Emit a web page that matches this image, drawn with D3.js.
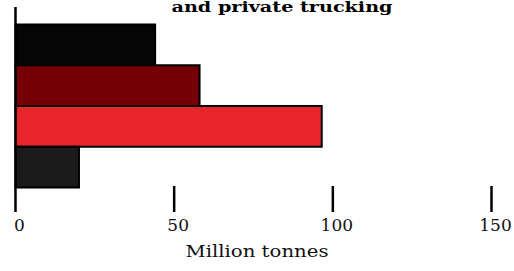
<!DOCTYPE html>
<html>
<head>
<meta charset="utf-8">
<script src="https://cdn.jsdelivr.net/npm/d3@7"></script>
<style>
  body { margin: 0; background: #fff; }
</style>
</head>
<body>
<script>
// data
const categories = ['a', 'b', 'c', 'd']
const values = [44, 58, 96.5, 20]
const barColors = ['#050505', '#750006', '#e8252b', '#1b1b1b']
const tickValues = [0, 50, 100, 150]

const W = 514, H = 271

const svg = d3.select('body').append('svg')
    .attr('width', W)
    .attr('height', H)

//x scale: 0 sits on the axis line, 150 at the last tick
const x = d3.scaleLinear()
    .domain([0, 150])
    .range([15.5, 491.5])

const y = d3.scaleBand()
    .domain(categories)
    .range([24.5, 187.5])
    .padding(0)

//title (only its last line shows at the top)
svg.append('text')
    .attr('x', 282)
    .attr('y', 12)
    .attr('text-anchor', 'middle')
    .attr('font-family', 'DejaVu Serif')
    .attr('font-weight', 'bold')
    .attr('font-size', '14px')
    .attr('textLength', 221)
    .attr('lengthAdjust', 'spacingAndGlyphs')
    .text('and private trucking')

//bars
svg.selectAll('.bar')
    .data(values)
    .enter()
    .append('rect')
        .attr('class', 'bar')
        .attr('x', x(0))
        .attr('y', (d, i) => y(categories[i]))
        .attr('width', d => x(d) - x(0))
        .attr('height', y.bandwidth())
        .attr('fill', (d, i) => barColors[i])
        .attr('stroke', '#000')
        .attr('stroke-width', 2)

//vertical axis line
svg.append('line')
    .attr('x1', x(0)).attr('x2', x(0))
    .attr('y1', 7).attr('y2', 212)
    .attr('stroke', '#000')
    .attr('stroke-width', 2.5)

//ticks and labels
svg.selectAll('.tick')
    .data(tickValues.slice(1))
    .enter()
    .append('line')
        .attr('x1', d => x(d)).attr('x2', d => x(d))
        .attr('y1', 186).attr('y2', 212)
        .attr('stroke', '#000')
        .attr('stroke-width', 2.5)

svg.selectAll('.tlabel')
    .data(tickValues)
    .enter()
    .append('text')
        .attr('x', d => x(d) + 4)
        .attr('y', 231)
        .attr('text-anchor', 'middle')
        .attr('font-family', 'DejaVu Serif')
        .attr('font-size', '17px')
        .attr('fill', '#111')
        .text(d => d)

svg.append('text')
    .attr('x', 257)
    .attr('y', 257)
    .attr('text-anchor', 'middle')
    .attr('font-family', 'DejaVu Serif')
    .attr('font-size', '16px')
    .attr('textLength', 143)
    .attr('lengthAdjust', 'spacingAndGlyphs')
    .attr('fill', '#111')
    .text('Million tonnes')
</script>
</body>
</html>
